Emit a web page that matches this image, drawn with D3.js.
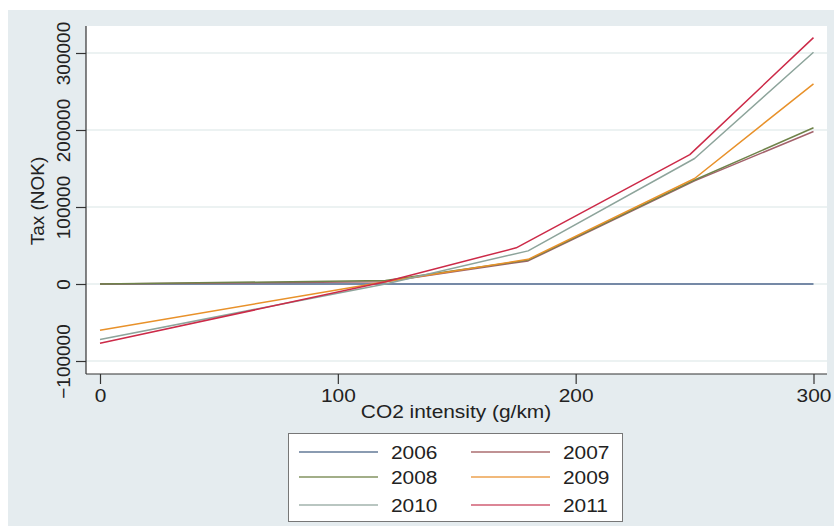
<!DOCTYPE html>
<html>
<head>
<meta charset="utf-8">
<script src="https://cdn.jsdelivr.net/npm/d3@7"></script>
<style>
  html, body { margin: 0; padding: 0; background: #ffffff; }
  svg { display: block; }
  text { font-family: "Liberation Sans", Arial, sans-serif; fill: #222; }
</style>
</head>
<body>
<svg id="chart" width="834" height="526"></svg>
<script>
// ---- data ----
const years = ["2006", "2007", "2008", "2009", "2010", "2011"];
const xTicks = [0, 100, 200, 300];
const yTicks = [-100000, 0, 100000, 200000, 300000];

// [CO2 g/km, tax NOK]
const tax2006 = [[0, 0], [300, 0]];
const tax2007 = [[0, 0], [120, 3000], [180, 30000], [250, 134000], [300, 198000]];
const tax2008 = [[0, 0], [120, 4500], [180, 31000], [250, 135000], [300, 203000]];
const tax2009 = [[0, -60000], [120, 3000], [180, 32000], [250, 137000], [300, 260000]];
const tax2010 = [[0, -72000], [120, 0], [180, 43000], [250, 163000], [300, 301000]];
const tax2011 = [[0, -77000], [120, 3000], [175, 47000], [248, 168000], [300, 320000]];

const seriesData = [tax2006, tax2007, tax2008, tax2009, tax2010, tax2011];
const lineColors = ["#7589a6", "#a3626b", "#6f834a", "#e8912a", "#8da49b", "#cc2a48"];
const legendColors = ["#8a9bb1", "#c09294", "#a2ae88", "#f1b97b", "#b9c6c1", "#dc8696"];

// ---- layout ----
const svg = d3.select("#chart");
const W = 834, H = 526;
const plot = { left: 86, right: 827, top: 26, bottom: 374 };
const xs = d3.scaleLinear().domain([0, 300]).range([100, 813.5]);
const ys = d3.scaleLinear().domain([-100000, 300000]).range([361, 53]);
const sx = 1.1; // horizontal text stretch in the reference

// outer background
svg.append("rect").attr("x", 8).attr("y", 10).attr("width", W - 8).attr("height", H - 10)
  .attr("fill", "#e5ecef");
// plot region
svg.append("rect").attr("x", plot.left).attr("y", plot.top)
  .attr("width", plot.right - plot.left).attr("height", plot.bottom - plot.top)
  .attr("fill", "#ffffff");

// gridlines
svg.append("g").selectAll("line").data(yTicks).join("line")
  .attr("x1", plot.left).attr("x2", plot.right)
  .attr("y1", d => ys(d)).attr("y2", d => ys(d))
  .attr("stroke", "#e6eeee").attr("stroke-width", 1.5);

// lines
const line = d3.line().x(d => xs(d[0])).y(d => ys(d[1]));
svg.append("g").selectAll("path").data(seriesData).join("path")
  .attr("d", d => line(d))
  .attr("fill", "none")
  .attr("stroke", (d, i) => lineColors[i])
  .attr("stroke-width", (d, i) => i === 0 ? 2 : 1.5)
  .attr("stroke-linejoin", "round");

// y axis
const yAxis = d3.axisLeft(ys).tickValues(yTicks).tickSize(10).tickFormat(d3.format("d"));
const gy = svg.append("g").attr("transform", `translate(${plot.left},0)`).call(yAxis);
gy.select(".domain").attr("d", `M0,${plot.top}V${plot.bottom}`).attr("stroke", "#333").attr("stroke-width", 1.2);
gy.selectAll(".tick line").attr("stroke", "#333").attr("stroke-width", 1.2);
gy.selectAll(".tick text")
  .attr("x", null).attr("dy", null)
  .attr("transform", "translate(-16,0) rotate(-90)")
  .attr("text-anchor", "middle")
  .attr("font-size", 19)
  .attr("font-family", "Liberation Sans, Arial, sans-serif")
  .attr("fill", "#222")
  .attr("y", 0);

// x axis
const xAxis = d3.axisBottom(xs).tickValues(xTicks).tickSize(10).tickFormat(d3.format("d"));
const gx = svg.append("g").attr("transform", `translate(0,${plot.bottom})`).call(xAxis);
gx.select(".domain").attr("d", `M${plot.left},0H${plot.right}`).attr("stroke", "#333").attr("stroke-width", 1.2);
gx.selectAll(".tick line").attr("stroke", "#333").attr("stroke-width", 1.2);
gx.selectAll(".tick text")
  .attr("y", null).attr("dy", null)
  .attr("transform", `translate(0,28) scale(${sx},1)`)
  .attr("font-size", 19)
  .attr("font-family", "Liberation Sans, Arial, sans-serif")
  .attr("fill", "#222");

// axis titles
svg.append("text").attr("transform", `translate(456,418) scale(${sx},1)`)
  .attr("text-anchor", "middle").attr("font-size", 19).text("CO2 intensity (g/km)");
svg.append("text").attr("transform", "translate(44,201) rotate(-90)")
  .attr("text-anchor", "middle").attr("font-size", 19).text("Tax (NOK)");

// legend
const lg = svg.append("g");
lg.append("rect").attr("x", 288.5).attr("y", 433.5).attr("width", 334).attr("height", 88)
  .attr("fill", "#ffffff").attr("stroke", "#777").attr("stroke-width", 1);
const rowY = [452, 477, 505];
const colX = [299, 471];
years.forEach((yr, i) => {
  const c = i % 2, r = Math.floor(i / 2);
  const x0 = colX[c], y0 = rowY[r];
  lg.append("line").attr("x1", x0).attr("x2", x0 + 79).attr("y1", y0).attr("y2", y0)
    .attr("stroke", legendColors[i]).attr("stroke-width", 2);
  lg.append("text").attr("transform", `translate(${x0 + 92},${y0 + 7}) scale(${sx},1)`)
    .attr("font-size", 19).text(yr);
});
</script>
</body>
</html>
